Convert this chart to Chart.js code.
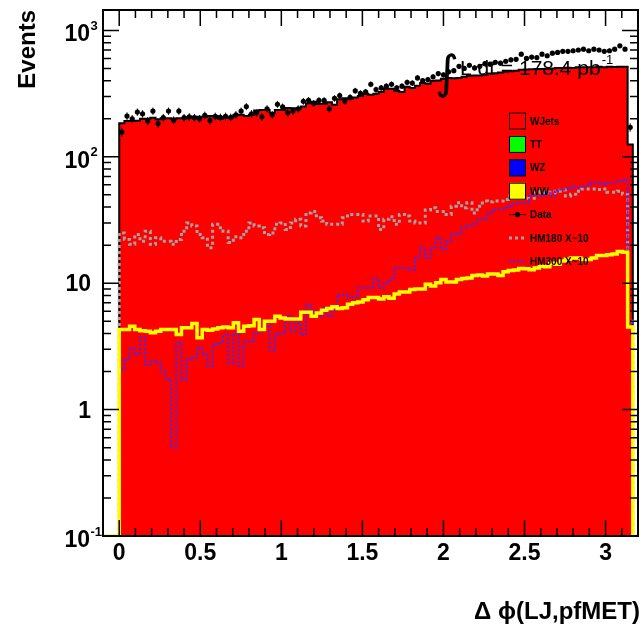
<!DOCTYPE html>
<html>
<head>
<meta charset="utf-8">
<script src="https://cdn.jsdelivr.net/npm/chart.js@4.4.1/dist/chart.umd.min.js"></script>
<style>
  html, body { margin: 0; padding: 0; background: #ffffff; }
  canvas { display: block; }
</style>
</head>
<body>
<canvas id="c" width="642" height="627"></canvas>
<script>
// Δφ(LJ,pfMET) distribution: 0.032-wide bins starting at 0
const BIN_WIDTH = 0.032;

// Stacked background total (WJets on top of TT, WZ, WW)
const wjets = [
  184,192,192,193,200,200,204,198,202,202,
  200,202,202,205,207,207,207,210,210,200,
  205,205,214,215,210,215,232,235,235,223,
  235,235,243,242,240,250,265,273,262,263,
  270,258,285,290,288,295,302,315,310,315,
  325,345,345,333,326,358,350,365,383,378,
  400,402,415,421,418,420,430,438,440,440,
  445,455,458,465,470,475,480,488,490,492,
  495,495,498,500,505,503,507,505,510,512,
  510,512,515,512,515,513,515,515,125
];

// WW contribution
const ww = [
  4.3,4.3,4.57,4.3,4.2,4.17,4.05,4.17,4.3,4.3,
  4.3,3.92,4.44,4.44,4.8,3.7,4.3,4.25,4.35,4.44,
  4.5,4.44,4.86,4.17,4.57,4.6,5.16,4.3,5.0,5.0,
  5.48,5.3,5.2,5.2,5.2,5.9,5.9,5.48,5.8,6.1,
  6.3,6.5,6.3,6.4,6.8,7.0,7.1,7.4,7.7,7.7,
  7.5,7.8,7.6,8.2,8.5,8.5,8.9,9.0,9.0,9.8,
  9.5,10.1,10.7,10.2,10.2,10.7,10.9,11.0,11.5,11.6,
  11.4,11.8,11.8,11.5,12.3,12.6,12.7,13.1,13.0,12.8,
  13.2,13.6,13.5,14.4,14.1,15.0,15.5,15.8,15.8,15.4,
  15.4,15.8,16.6,16.6,16.8,17.0,17.8,17.6,4.5
];

// Higgs mass 180 signal, scaled x10
const hm180 = [
  25,22.2,20.3,24.3,21.5,25.8,20.3,22.9,21.5,21.5,
  20.3,22.2,25.8,30,28.3,24.3,22.9,19.1,29.2,27.5,
  25.8,21,23.3,22.9,25.8,30,28.3,27.5,24.3,25,
  29.2,30,26.6,30,32,28.3,36,37,33,31,
  29.2,29.2,29.2,33,35,35,35,31,34,34,
  26.6,32,33.5,29.2,35,34,31,30,30,38,
  39.5,37,37,35,40.7,43.3,39.5,43.3,36,40.7,
  44.6,44,44.6,44.6,46,49,50.5,49,47,47,
  52.5,53.5,52.5,52,53.5,54.5,49,50.5,53.5,55.7,
  55.7,55.7,55,55.7,52.5,52.5,53.5,50.5,5
];

// Higgs mass 300 signal, scaled x10
const hm300 = [
  2.07,2.5,3.08,2.73,3.7,2.27,2.4,2.35,2.0,1.73,
  0.5,3.4,1.73,2.5,2.57,3.08,2.73,2.2,3.27,3.37,
  3.92,2.35,4.0,2.2,3.47,3.47,4.0,4.17,4.57,2.9,
  3.92,4.0,5.48,4.17,4.86,3.9,6.8,6.0,5.5,6.4,
  5.5,6.0,8.1,8.1,7.7,7.7,9.2,9.2,9.2,10.9,
  9.2,10.1,10.7,13.2,13.2,13.2,12.8,15.9,19.1,15.9,
  19.1,22.9,18.6,21.5,24.3,25,27.4,28.5,29.5,32,
  32,36,38.3,38.3,39.5,41,42.8,43.2,43.2,48.9,
  48.9,48.9,52,48.9,53.5,55.2,56,58.6,57,58,
  60.5,62.3,62.3,60.5,62.3,62.3,64.3,66,5
];

// Observed events
const dataCounts = [
  157,210,200,226,219,192,230,183,204,230,
  195,230,204,207,204,200,213,194,209,205,
  209,205,215,230,250,219,223,207,240,215,
  260,248,223,230,240,275,280,265,279,279,
  240,290,305,275,295,333,318,326,375,340,
  351,362,375,351,362,388,383,421,400,408,
  430,455,445,470,480,520,500,530,505,520,
  545,540,560,550,570,585,590,648,600,615,
  610,648,630,660,670,683,683,690,700,710,
  690,710,700,683,690,710,755,710,171
];

// Axis ticks and labels
const xTickValues = [0, 0.5, 1, 1.5, 2, 2.5, 3];
const xTickLabels = ['0', '0.5', '1', '1.5', '2', '2.5', '3'];
const yDecades   = [0.1, 1, 10, 100, 1000];
const yTickBase  = ['10', '1', '10', '10', '10'];
const yTickExp   = ['-1', '', '', '2', '3'];

const legendLabels = ['WJets', 'TT', 'WZ', 'WW', 'Data', 'HM180 X~10', 'HM300 X~10'];
const xTitle = 'Δ ϕ(LJ,pfMET)';
const yTitle = 'Events';
const lumiLabel = 'L dt = 178.4 pb';
const lumiExp = '-1';

const X_MIN = -0.1, X_MAX = 3.2;
const Y_MIN = 0.1, Y_MAX = 1450;
const FLOOR = Y_MIN;
const FONT = '"Liberation Sans", Arial, Helvetica, "DejaVu Sans", sans-serif';

// Outline of a histogram as a polyline through the bin edges
function histPoints(vals, alongFloor) {
  const pts = [];
  if (alongFloor) pts.push({ x: X_MIN, y: FLOOR });
  pts.push({ x: 0, y: FLOOR });
  vals.forEach((v, i) => {
    pts.push({ x: i * BIN_WIDTH, y: v }, { x: (i + 1) * BIN_WIDTH, y: v });
  });
  pts.push({ x: vals.length * BIN_WIDTH, y: FLOOR });
  if (alongFloor) pts.push({ x: X_MAX, y: FLOOR });
  return pts;
}

const dataPoints = dataCounts.map((n, i) => ({ x: (i + 0.5) * BIN_WIDTH, y: n }));

const COLORS = {
  wjets: '#ff0000', tt: '#00ff00', wz: '#0000ff', ww: '#ffff00',
  hm180: '#a3a3a3', hm300: '#3a2cff'
};
const HM180_DASH = [3, 3];
const HM300_DASH = [2, 2];
const DATA_IDX = 0;

// ROOT-style frame, inner ticks, labels, legend and luminosity text
const rootStyle = {
  id: 'rootStyle',
  beforeDatasetDraw(chart, args) {
    if (args.index !== DATA_IDX) return;
    const { ctx } = chart;
    const xs = chart.scales.x, ys = chart.scales.y;
    ctx.save();
    ctx.strokeStyle = '#000';
    ctx.lineWidth = 1;
    dataCounts.forEach((n, i) => {
      const x = xs.getPixelForValue((i + 0.5) * BIN_WIDTH);
      const e = Math.sqrt(n);
      ctx.beginPath();
      ctx.moveTo(x, ys.getPixelForValue(n + e));
      ctx.lineTo(x, ys.getPixelForValue(Math.max(n - e, FLOOR)));
      ctx.stroke();
    });
    ctx.restore();
  },
  afterDraw(chart) {
    const { ctx, chartArea: a } = chart;
    const xs = chart.scales.x, ys = chart.scales.y;

    // legend
    ctx.save();
    const lx = 509, lw = 17, ly0 = 121, lstep = 23.4;
    const boxColors = [COLORS.wjets, COLORS.tt, COLORS.wz, COLORS.ww];
    ctx.font = 'bold 10px ' + FONT;
    ctx.textBaseline = 'alphabetic';
    ctx.textAlign = 'left';
    legendLabels.forEach((lab, i) => {
      const cy = ly0 + i * lstep;
      if (i < 4) {
        ctx.fillStyle = boxColors[i];
        ctx.fillRect(lx, cy - 8.5, lw, 17);
        ctx.strokeStyle = '#000';
        ctx.lineWidth = 1;
        ctx.strokeRect(lx + 0.5, cy - 8, lw - 1, 16);
      } else if (i === 4) {
        ctx.strokeStyle = '#000';
        ctx.lineWidth = 1;
        ctx.beginPath(); ctx.moveTo(lx, cy); ctx.lineTo(lx + lw, cy); ctx.stroke();
        ctx.fillStyle = '#000';
        ctx.beginPath(); ctx.arc(lx + lw / 2, cy, 2.6, 0, Math.PI * 2); ctx.fill();
      } else {
        ctx.strokeStyle = i === 5 ? COLORS.hm180 : COLORS.hm300;
        ctx.lineWidth = i === 5 ? 3 : 2;
        ctx.setLineDash(i === 5 ? HM180_DASH : HM300_DASH);
        ctx.beginPath(); ctx.moveTo(lx, cy); ctx.lineTo(lx + lw, cy); ctx.stroke();
        ctx.setLineDash([]);
      }
      ctx.fillStyle = '#000';
      ctx.fillText(lab, 530, cy + 3.5);
    });
    ctx.restore();

    // integrated luminosity
    ctx.save();
    ctx.fillStyle = '#000';
    ctx.textAlign = 'left';
    ctx.textBaseline = 'alphabetic';
    ctx.font = '46px "DejaVu Sans", sans-serif';
    ctx.fillText('∫', 435, 88);
    ctx.font = '21px ' + FONT;
    ctx.fillText(lumiLabel, 460, 75);
    const lwid = ctx.measureText(lumiLabel).width;
    ctx.font = '13px ' + FONT;
    ctx.fillText(lumiExp, 460 + lwid + 1, 64);
    ctx.restore();

    // frame
    ctx.save();
    ctx.strokeStyle = '#000';
    ctx.lineWidth = 2;
    ctx.strokeRect(a.left, a.top, a.right - a.left, a.bottom - a.top);

    // ticks
    ctx.lineWidth = 1.5;
    const MAJ = 16, MIN = 8;
    const hline = (y, len) => {
      ctx.beginPath();
      ctx.moveTo(a.left, y); ctx.lineTo(a.left + len, y);
      ctx.moveTo(a.right, y); ctx.lineTo(a.right - len, y);
      ctx.stroke();
    };
    const vline = (x, len) => {
      ctx.beginPath();
      ctx.moveTo(x, a.bottom); ctx.lineTo(x, a.bottom - len);
      ctx.moveTo(x, a.top); ctx.lineTo(x, a.top + len);
      ctx.stroke();
    };
    yDecades.forEach(d => {
      hline(ys.getPixelForValue(d), MAJ);
      for (let k = 2; k <= 9; k++) {
        const v = k * d;
        if (v <= Y_MAX) hline(ys.getPixelForValue(v), MIN);
      }
    });
    for (let t = -1; t <= 32; t++) {
      const v = t / 10;
      const major = t % 5 === 0 && t >= 0 && t <= 30;
      vline(xs.getPixelForValue(v), major ? MAJ : MIN);
    }
    ctx.restore();

    // tick labels
    ctx.save();
    ctx.fillStyle = '#000';
    ctx.textBaseline = 'alphabetic';
    ctx.font = 'bold 23px ' + FONT;
    ctx.textAlign = 'center';
    xTickValues.forEach((v, i) => {
      ctx.fillText(xTickLabels[i], xs.getPixelForValue(v), 560);
    });
    yDecades.forEach((d, i) => {
      const y = ys.getPixelForValue(d);
      ctx.font = 'bold 23px ' + FONT;
      ctx.textAlign = 'right';
      if (yTickExp[i]) {
        ctx.fillText(yTickBase[i], 90, y + 11);
        ctx.font = 'bold 13px ' + FONT;
        ctx.textAlign = 'left';
        ctx.fillText(yTickExp[i], 90.5, y - 0.5);
      } else {
        ctx.fillText(yTickBase[i], 91, y + 8);
      }
    });

    // axis titles
    ctx.font = 'bold 24px ' + FONT;
    ctx.textAlign = 'right';
    ctx.fillText(xTitle, 640, 619);
    ctx.translate(35, 10);
    ctx.rotate(-Math.PI / 2);
    ctx.fillText(yTitle, 0, 0);
    ctx.restore();
  }
};

new Chart(document.getElementById('c').getContext('2d'), {
  type: 'line',
  data: {
    datasets: [
      {
        label: 'Data', data: dataPoints, showLine: false, order: 0,
        pointRadius: 2.6, pointBackgroundColor: '#000', pointBorderWidth: 0,
        pointStyle: 'circle'
      },
      {
        label: 'WW', data: histPoints(ww, true), order: 1,
        borderColor: COLORS.ww, borderWidth: 3.5, pointRadius: 0, fill: false
      },
      {
        label: 'HM300 X~10', data: histPoints(hm300, false), order: 2,
        borderColor: COLORS.hm300, borderWidth: 2, borderDash: HM300_DASH,
        pointRadius: 0, fill: false
      },
      {
        label: 'HM180 X~10', data: histPoints(hm180, false), order: 3,
        borderColor: COLORS.hm180, borderWidth: 3, borderDash: HM180_DASH,
        pointRadius: 0, fill: false
      },
      {
        label: 'WJets', data: histPoints(wjets, false), order: 4,
        borderColor: '#000', borderWidth: 2, backgroundColor: COLORS.wjets,
        pointRadius: 0, fill: 'start'
      }
    ]
  },
  options: {
    responsive: false,
    animation: false,
    devicePixelRatio: 1,
    layout: { padding: { left: 103, right: 4, top: 10, bottom: 91 } },
    scales: {
      x: { type: 'linear', min: X_MIN, max: X_MAX, display: false },
      y: { type: 'logarithmic', min: Y_MIN, max: Y_MAX, display: false }
    },
    plugins: { legend: { display: false }, tooltip: { enabled: false } },
    elements: { line: { tension: 0 } }
  },
  plugins: [rootStyle]
});
</script>
</body>
</html>
